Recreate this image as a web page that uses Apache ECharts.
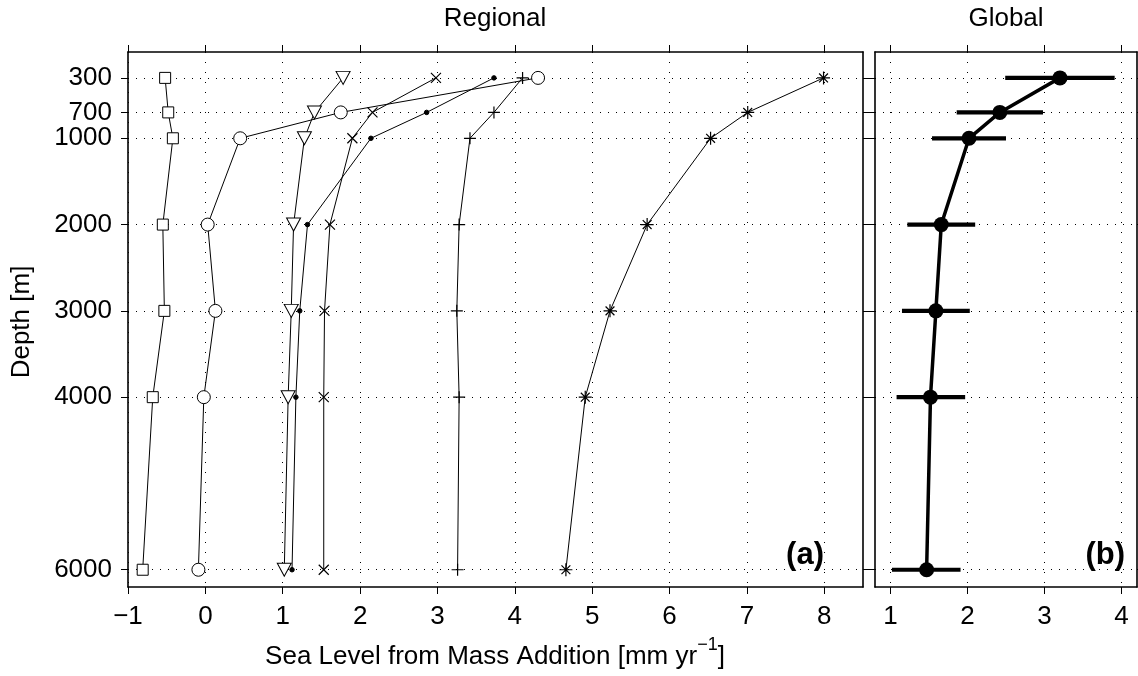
<!DOCTYPE html>
<html>
<head>
<meta charset="utf-8">
<script src="https://cdn.jsdelivr.net/npm/echarts@6/dist/echarts.min.js"></script>
<style>html,body{margin:0;padding:0;background:#fff}#c{width:1138px;height:676px}</style>
</head>
<body>
<div id="c"></div>
<script>
// ---- data ----
const depths = [300, 700, 1000, 2000, 3000, 4000, 6000];
const depthTicks = [300, 700, 1000, 2000, 3000, 4000, 6000];
const regionalTicks = [-1, 0, 1, 2, 3, 4, 5, 6, 7, 8];
const globalTicks = [1, 2, 3, 4];
const squareSeries = [-0.52, -0.48, -0.42, -0.55, -0.53, -0.68, -0.81];
const circleSeries = [4.30, 1.75, 0.45, 0.03, 0.13, -0.02, -0.09];
const triangleSeries = [1.78, 1.41, 1.28, 1.14, 1.11, 1.07, 1.02];
const dotSeries = [3.73, 2.86, 2.14, 1.32, 1.22, 1.17, 1.12];
const crossSeries = [2.98, 2.16, 1.90, 1.61, 1.54, 1.53, 1.53];
const plusSeries = [4.10, 3.73, 3.42, 3.28, 3.25, 3.28, 3.26];
const starSeries = [7.99, 7.01, 6.53, 5.71, 5.23, 4.91, 4.66];
const globalMean = [3.20, 2.42, 2.02, 1.66, 1.59, 1.52, 1.47];
const globalLow = [2.49, 1.86, 1.54, 1.22, 1.15, 1.08, 1.02];
const globalHigh = [3.91, 2.98, 2.50, 2.10, 2.03, 1.97, 1.91];

// ---- chart ----
const FONT = "'Liberation Sans', Arial, Helvetica, sans-serif";
const chart = echarts.init(document.getElementById('c'), null, {renderer: 'canvas'});
const minus = v => String(v).replace('-', '\u2212');
const plain = v => String(v);

const axLine = {show: true, onZero: false, lineStyle: {color: '#000', width: 1.6}};
const tick = vals => ({show: true, inside: false, length: 7, customValues: vals, lineStyle: {color: '#000', width: 1}});
const dotted = dash => ({show: true, lineStyle: {color: '#000', width: 1, type: dash}});
const noLabel = {show: false};

function xAx(grid, pos, min, max, ticks, labels, split) {
  return {
    gridIndex: grid, type: 'value', position: pos, min: min, max: max,
    axisLine: axLine, axisTick: tick(ticks),
    axisLabel: labels ? {show: true, customValues: ticks, margin: 17, color: '#000', fontSize: 26, fontFamily: FONT, formatter: minus} : noLabel,
    splitLine: split ? dotted([1, 9]) : {show: false}
  };
}
function yAx(grid, pos, labels, split) {
  return {
    gridIndex: grid, type: 'value', position: pos, inverse: true, min: 0, max: 6200,
    axisLine: axLine, axisTick: tick(depthTicks),
    axisLabel: labels ? {show: true, customValues: depthTicks, margin: 16, color: '#000', fontSize: 26, fontFamily: FONT, formatter: plain} : noLabel,
    splitLine: split ? dotted([1, 7]) : {show: false}
  };
}

function regional(vals, symbol, size, fill, extra) {
  return Object.assign({
    type: 'line', xAxisIndex: 0, yAxisIndex: 0,
    data: depths.map((d, i) => [vals[i], d]),
    symbol: symbol, symbolSize: size, showSymbol: true,
    lineStyle: {color: '#000', width: 1},
    itemStyle: {color: fill, borderColor: '#000', borderWidth: 1},
    emphasis: {disabled: true}, silent: true
  }, extra || {});
}

const option = {
  animation: false,
  backgroundColor: '#fff',
  grid: [
    {left: 128, top: 52, width: 735, height: 535, containLabel: false},
    {left: 875, top: 52, width: 262, height: 535, containLabel: false}
  ],
  xAxis: [
    xAx(0, 'bottom', -1, 8.5, regionalTicks, true, true),
    xAx(0, 'top', -1, 8.5, regionalTicks, false, false),
    xAx(1, 'bottom', 0.8, 4.2, globalTicks, true, true),
    xAx(1, 'top', 0.8, 4.2, globalTicks, false, false)
  ],
  yAxis: [
    yAx(0, 'left', true, true),
    yAx(0, 'right', false, false),
    yAx(1, 'left', false, true),
    yAx(1, 'right', false, false)
  ],
  series: [
    regional(squareSeries, 'rect', 11, '#fff'),
    regional(circleSeries, 'circle', 13, '#fff'),
    regional(triangleSeries, 'triangle', [14, 13], '#fff', {symbolRotate: 180}),
    regional(dotSeries, 'circle', 4.5, '#000'),
    regional(crossSeries, 'path://M0,0L10,10M10,0L0,10', 10, 'none', {itemStyle: {color: 'none', borderColor: '#000', borderWidth: 1.2}}),
    regional(plusSeries, 'path://M5,0L5,10M0,5L10,5', 12, 'none', {itemStyle: {color: 'none', borderColor: '#000', borderWidth: 1.2}}),
    regional(starSeries, 'path://M5,0L5,10M0,5L10,5M1.6,1.6L8.4,8.4M8.4,1.6L1.6,8.4', 13, 'none', {itemStyle: {color: 'none', borderColor: '#000', borderWidth: 1.2}}),
    {
      type: 'custom', xAxisIndex: 2, yAxisIndex: 2, silent: true, z: 1,
      data: depths.map((d, i) => [globalLow[i], globalHigh[i], d]),
      encode: {x: [0, 1], y: 2},
      renderItem: function (params, api) {
        const a = api.coord([api.value(0), api.value(2)]);
        const b = api.coord([api.value(1), api.value(2)]);
        return {type: 'line', shape: {x1: a[0], y1: a[1], x2: b[0], y2: b[1]}, style: {stroke: '#000', lineWidth: 4.2}};
      }
    },
    {
      type: 'line', xAxisIndex: 2, yAxisIndex: 2, z: 3, silent: true,
      data: depths.map((d, i) => [globalMean[i], d]),
      symbol: 'circle', symbolSize: 15, showSymbol: true,
      lineStyle: {color: '#000', width: 3.5},
      itemStyle: {color: '#000'},
      emphasis: {disabled: true}
    }
  ],
  graphic: [
    {type: 'text', x: 495, y: 19, silent: true, style: {text: 'Regional', fontSize: 26, fontFamily: FONT, fill: '#000', textAlign: 'center', textVerticalAlign: 'middle'}},
    {type: 'text', x: 1006, y: 19, silent: true, style: {text: 'Global', fontSize: 26, fontFamily: FONT, fill: '#000', textAlign: 'center', textVerticalAlign: 'middle'}},
    {type: 'text', x: 22, y: 322, rotation: Math.PI / 2, silent: true, style: {text: 'Depth [m]', fontSize: 26, fontFamily: FONT, fill: '#000', textAlign: 'center', textVerticalAlign: 'middle'}},
    {type: 'text', x: 495, y: 656.5, silent: true, style: {
      text: '{a|Sea Level from Mass Addition [mm yr}{s|\u22121}{a|]}',
      textAlign: 'center', textVerticalAlign: 'middle', fill: '#000',
      rich: {
        a: {fontSize: 26, lineHeight: 41, fontFamily: FONT, fill: '#000', verticalAlign: 'middle'},
        s: {fontSize: 18, lineHeight: 18, fontFamily: FONT, fill: '#000', verticalAlign: 'top'}
      }
    }},
    {type: 'text', x: 824, y: 555, silent: true, style: {text: '(a)', fontSize: 31, fontWeight: 'bold', fontFamily: FONT, fill: '#000', textAlign: 'right', textVerticalAlign: 'middle'}},
    {type: 'text', x: 1125, y: 555, silent: true, style: {text: '(b)', fontSize: 31, fontWeight: 'bold', fontFamily: FONT, fill: '#000', textAlign: 'right', textVerticalAlign: 'middle'}}
  ]
};
chart.setOption(option);
</script>
</body>
</html>
